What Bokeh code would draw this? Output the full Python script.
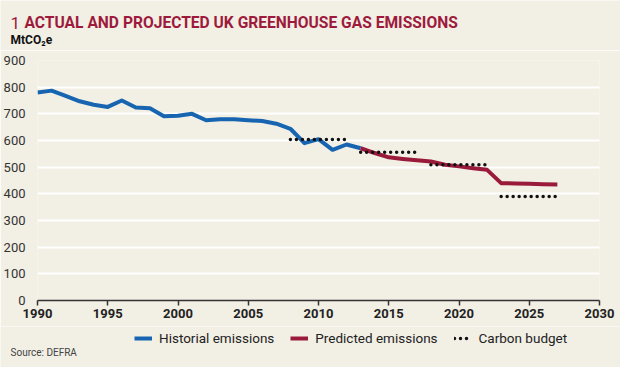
from bokeh.plotting import figure
from bokeh.layouts import column
from bokeh.models import Label, Legend, LegendItem, Range1d, FixedTicker, ColumnDataSource
from bokeh.embed import file_html
from bokeh.resources import INLINE

hist_years = [1990, 1991, 1992, 1993, 1994, 1995, 1996, 1997, 1998, 1999, 2000, 2001,
              2002, 2003, 2004, 2005, 2006, 2007, 2008, 2009, 2010, 2011, 2012, 2013]
hist_values = [780, 787, 767, 747, 734, 726, 750, 724, 721, 691, 693, 700,
               676, 680, 680, 676, 673, 663, 644, 590, 605, 565, 585, 571]

pred_years = [2013, 2014, 2015, 2016, 2017, 2018, 2019, 2020, 2021, 2022, 2023, 2024, 2025, 2026, 2027]
pred_values = [571, 553, 537, 531, 526, 521, 509, 503, 496, 490, 440, 439, 438, 436, 435]

budget_start = [2008, 2013, 2018, 2023]
budget_end = [2012, 2017, 2022, 2027]
budget_values = [603.6, 556.4, 508.8, 390.0]

x_ticks = [1990, 1995, 2000, 2005, 2010, 2015, 2020, 2025, 2030]
y_ticks = [0, 100, 200, 300, 400, 500, 600, 700, 800, 900]

series_labels = ["Historial emissions", "Predicted emissions", "Carbon budget"]

BG = "#f2efe5"
BLUE = "#1765b0"
RED = "#9a1a3b"
TITLE = "#9e1a3c"
FONT = "Roboto"
W = 620


def strip(height):
    f = figure(width=W, height=height, output_backend="svg", toolbar_location=None,
               x_range=Range1d(0, 1), y_range=Range1d(0, 1),
               x_axis_location=None, y_axis_location=None, frame_align=False,
               min_border_left=0, min_border_right=0, min_border_top=0, min_border_bottom=0)
    f.background_fill_color = BG
    f.border_fill_color = BG
    f.outline_line_color = None
    f.xgrid.visible = False
    f.ygrid.visible = False
    return f


# ---- title strip ----
top = strip(50)
top.add_layout(Label(x=10, y=28, x_units="screen", y_units="screen", text="1",
                     text_font=FONT, text_font_size="17px", text_color=TITLE,
                     text_baseline="alphabetic"))
top.add_layout(Label(x=24, y=28, x_units="screen", y_units="screen",
                     text="ACTUAL AND PROJECTED UK GREENHOUSE GAS EMISSIONS",
                     text_font=FONT, text_font_size="15.6px", text_font_style="bold",
                     text_color=TITLE, text_baseline="alphabetic"))
top.add_layout(Label(x=10, y=11, x_units="screen", y_units="screen", text="MtCO₂e",
                     text_font=FONT, text_font_size="12px", text_font_style="bold",
                     text_color="#111111", text_baseline="alphabetic"))

# ---- main chart ----
p = figure(width=W, height=276, output_backend="svg", toolbar_location=None,
           x_range=Range1d(1990, 2030), y_range=Range1d(0, 900), frame_align=False,
           min_border_left=36, min_border_right=21, min_border_top=10, min_border_bottom=26)
p.background_fill_color = BG
p.border_fill_color = BG
p.outline_line_color = None

p.xgrid.grid_line_color = None
p.ygrid.grid_line_color = "white"
p.ygrid.grid_line_width = 2
p.ygrid.ticker = FixedTicker(ticks=y_ticks)

p.xaxis.ticker = FixedTicker(ticks=x_ticks)
p.xaxis.axis_line_color = "#333333"
p.xaxis.axis_line_width = 1.5
p.xaxis.major_tick_line_color = "#333333"
p.xaxis.major_tick_line_width = 1.5
p.xaxis.major_tick_in = 0
p.xaxis.major_tick_out = 5
p.xaxis.minor_tick_line_color = None
p.xaxis.major_label_text_font = FONT
p.xaxis.major_label_text_font_style = "bold"
p.xaxis.major_label_text_font_size = "13px"
p.xaxis.major_label_text_color = "#222222"
p.xaxis.major_label_standoff = 3

p.yaxis.ticker = FixedTicker(ticks=y_ticks)
p.yaxis.axis_line_color = None
p.yaxis.major_tick_line_color = None
p.yaxis.minor_tick_line_color = None
p.yaxis.major_label_text_font = FONT
p.yaxis.major_label_text_font_size = "13px"
p.yaxis.major_label_text_color = "#333333"
p.yaxis.major_label_standoff = 6

p.line(hist_years, hist_values, line_color=BLUE, line_width=4, line_join="round")
p.line(pred_years, pred_values, line_color=RED, line_width=4, line_join="round")
bsrc = ColumnDataSource(dict(x0=budget_start, x1=budget_end, y=budget_values))
p.segment(x0="x0", y0="y", x1="x1", y1="y", source=bsrc, line_color="#111111",
          line_width=3.5, line_dash="0 6", line_cap="round")

# ---- legend / source strip (series drawn outside this strip's 0..1 ranges, legend only) ----
bot = strip(41)
lg_hist = bot.line(hist_years, hist_values, line_color=BLUE, line_width=4)
lg_pred = bot.line(pred_years, pred_values, line_color=RED, line_width=4)
lg_budget = bot.segment(x0="x0", y0="y", x1="x1", y1="y", source=bsrc, line_color="#111111",
                        line_width=3.5, line_dash="0 6", line_cap="round")
legend = Legend(items=[LegendItem(label=series_labels[0], renderers=[lg_hist]),
                       LegendItem(label=series_labels[1], renderers=[lg_pred]),
                       LegendItem(label=series_labels[2], renderers=[lg_budget])],
                orientation="horizontal", location=(134, 21),
                background_fill_alpha=0, border_line_color=None,
                padding=0, margin=0, spacing=16, glyph_width=18, glyph_height=16,
                label_standoff=7, label_text_font=FONT, label_text_font_size="13.5px",
                label_text_color="#222222")
bot.add_layout(legend, "center")
bot.add_layout(Label(x=10, y=15, x_units="screen", y_units="screen", text="Source: DEFRA",
                     text_font=FONT, text_font_size="10px", text_color="#444444",
                     text_baseline="middle"))

layout = column(top, p, bot, spacing=0)
html = file_html(layout, INLINE)
open("out.html", "w").write(html)
